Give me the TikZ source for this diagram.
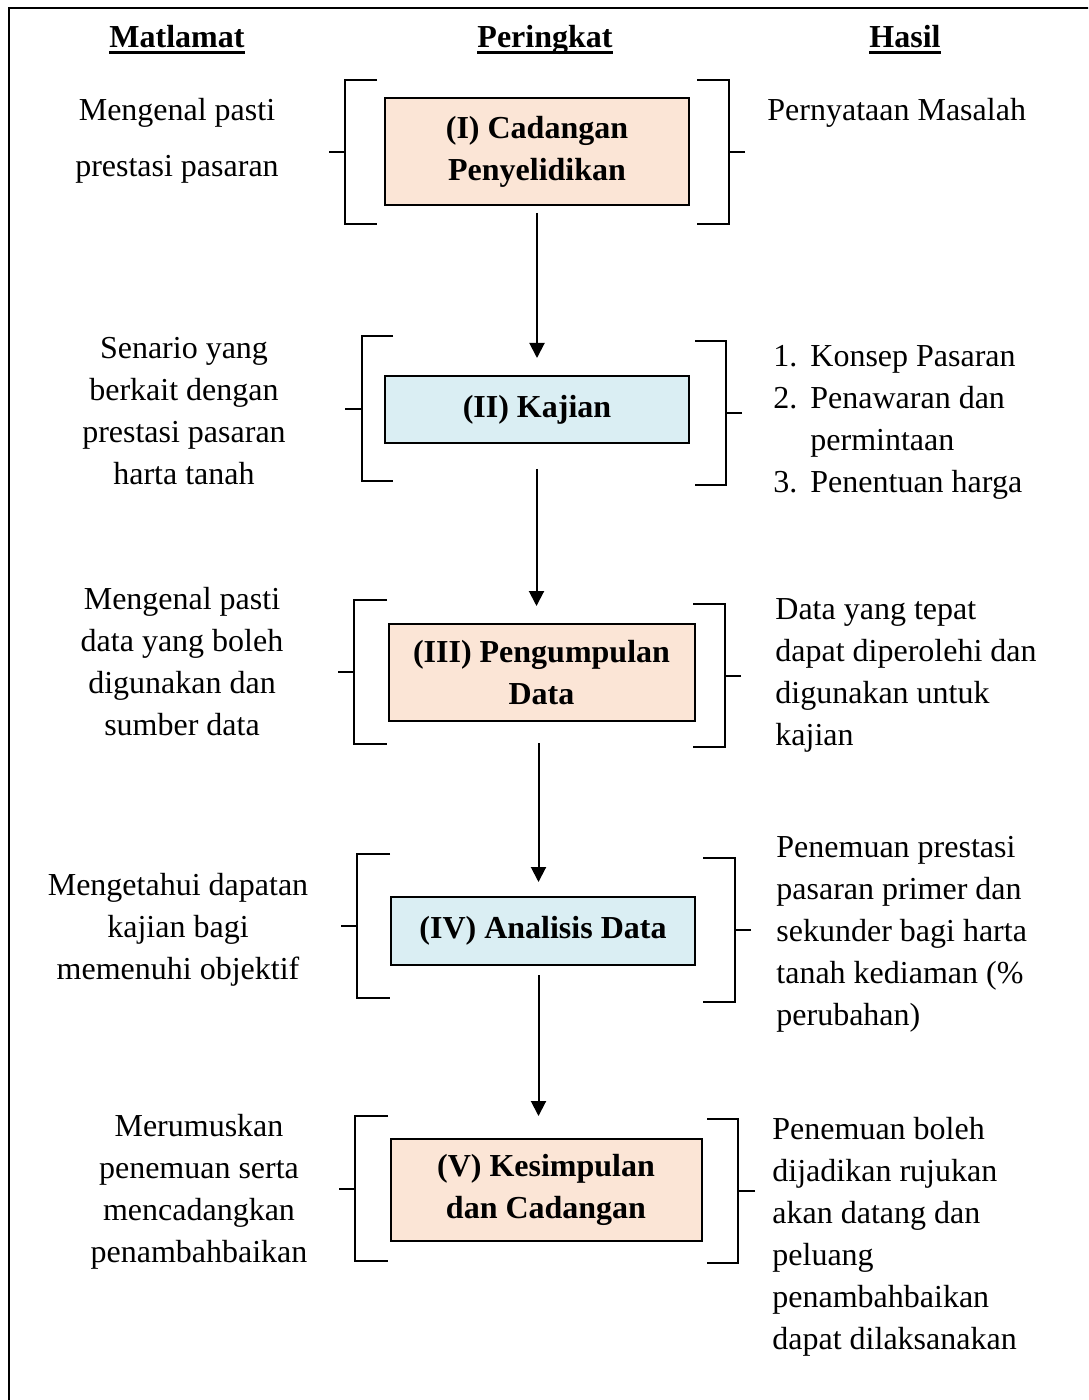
\documentclass[tikz,border=0pt]{standalone}
\usepackage{fontspec}
\setmainfont{Liberation Serif}
\usetikzlibrary{positioning,arrows.meta}
\definecolor{peach}{RGB}{251,229,214}
\definecolor{paleblue}{RGB}{218,238,243}
\newcommand{\headul}[1]{\setbox0\hbox{#1}\rlap{\rule[-3pt]{\wd0}{1.3pt}}\box0}

\begin{document}
\begin{tikzpicture}[x=0.5pt,y=-0.5pt,
  every node/.style={font=\fontsize{16}{21}\selectfont, inner sep=0pt},
  stage/.style={draw, line width=1pt, font=\fontsize{16}{21}\selectfont\bfseries, align=center, minimum width=152pt},
  orangestage/.style={stage, fill=peach},
  bluestage/.style={stage, fill=paleblue},
  brk/.style={line width=1pt},
  flow/.style={line width=1pt, -{Triangle[width=7.5pt,length=7.5pt]}}]
 \useasboundingbox (0,0) rectangle (1088,1400);
 \clip (0,0) rectangle (1088,1400);
 \draw[line width=1.2pt] (9,8) rectangle (1110,1420);

 % headings
 \node[anchor=base, font=\fontsize{16}{21}\selectfont\bfseries] (hm) at (177,48) {\headul{Matlamat}};
 \node[anchor=base, font=\fontsize{16}{21}\selectfont\bfseries] (hp) at (545,48) {\headul{Peringkat}};
 \node[anchor=base, font=\fontsize{16}{21}\selectfont\bfseries] (hh) at (905,48) {\headul{Hasil}};

 % stages
 \node[orangestage, minimum height=53.5pt] (b1) at (537,151.5) {(I) Cadangan\\Penyelidikan};
 \node[bluestage, minimum height=33.5pt, below=84.5pt of b1] (b2) {(II) Kajian};
 \node[orangestage, minimum height=48.5pt, minimum width=153pt, below=89.5pt of b2, xshift=2.25pt] (b3) {(III) Pengumpulan\\Data};
 \node[bluestage, minimum height=34pt, below=87pt of b3, xshift=0.75pt] (b4) {(IV) Analisis Data};
 \node[orangestage, minimum height=51pt, minimum width=155.5pt, below=86pt of b4, xshift=1.5pt] (b5) {(V) Kesimpulan\\dan Cadangan};

 % arrows between stages
 \foreach \a/\b/\s/\e/\dx in {b1/b2/3.5/8.5/0, b2/b3/12.5/8.5/-0.25, b3/b4/10.5/7/-1.5, b4/b5/4.5/11/-2.25} {
   \path ([xshift=\dx pt]\a.south) coordinate (s\a);
   \draw[flow, shorten <=\s pt, shorten >=\e pt] (s\a) -- (s\a |- \b.north);
 }

 % brackets
 \foreach \xv/\xe/\ya/\yb/\xk/\yk in {345/377/80/224/329/152, 362/393/336/481/345/409,
     354/387/600/744/338/672, 357/390/854/998/341/926, 355/388/1116/1261/339/1189,
     729/697/80/224/745/152, 726/695/341/485/742/413, 725/693/604/747/741/676,
     735/703/858/1002/751/930, 738/707/1119/1263/755/1191} {
   \draw[brk] (\xe,\ya) -| (\xv,\yb) -- (\xe,\yb);
   \draw[brk] (\xk,\yk) -- (\xv,\yk);
 }

 % matlamat
 \node[align=center, font=\fontsize{16}{28}\selectfont] (m1) at (177,140.5) {Mengenal pasti\\prestasi pasaran};
 \node[align=center] (m2) at (184,411) {Senario yang\\berkait dengan\\prestasi pasaran\\harta tanah};
 \node[align=center] (m3) at (182,661.5) {Mengenal pasti\\data yang boleh\\digunakan dan\\sumber data};
 \node[align=center] (m4) at (178,929.5) {Mengetahui dapatan\\kajian bagi\\memenuhi objektif};
 \node[align=center] (m5) at (199,1191.5) {Merumuskan\\penemuan serta\\mencadangkan\\penambahbaikan};

 % hasil
 \node[anchor=west] (h1) at (767,112.5) {Pernyataan Masalah};
 \node[anchor=west] (h2) at (773,421.6) {\begin{tabular}{@{}l@{\hspace{6.5pt}}l@{}}1.&Konsep Pasaran\\2.&Penawaran dan\\&permintaan\\3.&Penentuan harga\end{tabular}};
 \node[anchor=west, align=left] (h3) at (775,675) {Data yang tepat\\dapat diperolehi dan\\digunakan untuk\\kajian};
 \node[anchor=west, align=left] (h4) at (776,934) {Penemuan prestasi\\pasaran primer dan\\sekunder bagi harta\\tanah kediaman (\%\\perubahan)};
 \node[anchor=west, align=left] (h5) at (772,1236.5) {Penemuan boleh\\dijadikan rujukan\\akan datang dan\\peluang\\penambahbaikan\\dapat dilaksanakan};
\end{tikzpicture}
\end{document}
